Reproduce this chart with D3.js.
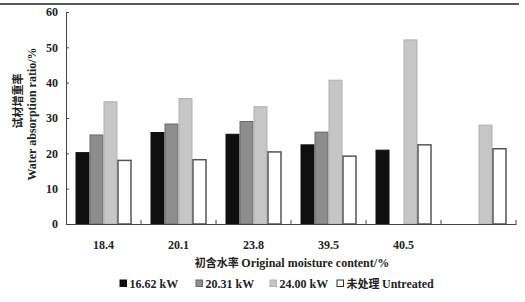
<!DOCTYPE html>
<html><head><meta charset="utf-8">
<script src="https://cdn.jsdelivr.net/npm/d3@7"></script>
<style>
body{margin:0;background:#fff;}
svg{display:block;}
text{font-family:"Liberation Serif","Times New Roman",serif;fill:#222;}
.cjk{font-family:"Noto Sans CJK SC",sans-serif;}
</style></head>
<body>
<script>
const categories = ["18.4","20.1","23.8","39.5","40.5",""];
const seriesNames = ["16.62 kW","20.31 kW","24.00 kW","未处理 Untreated"];
const s1662 = [20.2, 25.9, 25.4, 22.4, 20.9, null];
const s2031 = [25.2, 28.3, 29.0, 26.0, null, null];
const s2400 = [34.6, 35.5, 33.2, 40.7, 52.1, 28.0];
const sUntreated = [18.0, 18.2, 20.4, 19.2, 22.4, 21.3];
const yTicks = [0,10,20,30,40,50,60];

const series = [s1662, s2031, s2400, sUntreated];
const fills = ["#0f0f0f","#8d8d8d","#c6c6c6","#ffffff"];
const strokes = ["#0f0f0f","#6a6a6a","#b0b0b0","#555555"];

const W=525,H=302;
const svg=d3.select("body").append("svg").attr("width",W).attr("height",H);

// top frame line
svg.append("line").attr("x1",0).attr("x2",519).attr("y1",4).attr("y2",4)
  .attr("stroke","#222").attr("stroke-width",1.6);

const x=d3.scaleBand().domain(categories).range([66,516]).padding(0);
const xi=d3.scaleBand().domain(d3.range(4)).range([0,x.bandwidth()]).paddingInner(0).paddingOuter(0.68);
const y=d3.scaleLinear().domain([0,60]).range([224,12]);

// bars
series.forEach((vals,si)=>{
  svg.append("g").selectAll("rect").data(categories.map((c,i)=>({c,v:vals[i]})).filter(d=>d.v!=null))
   .join("rect")
   .attr("x",d=>x(d.c)+xi(si)+0.5)
   .attr("width",xi.bandwidth()-1)
   .attr("y",d=>y(d.v))
   .attr("height",d=>y(0)-y(d.v))
   .attr("fill",fills[si]).attr("stroke",strokes[si]).attr("stroke-width",si==3?1.5:1);
});

// y axis
const ya=svg.append("g").attr("transform","translate(66,0)")
  .call(d3.axisLeft(y).tickValues(yTicks).tickSize(-3).tickPadding(8).tickFormat(d3.format("d")));
ya.select(".domain").attr("stroke","#444");
ya.selectAll(".tick line").attr("stroke","#444");
ya.selectAll("text").attr("font-size",12).attr("font-weight","bold").attr("font-family","Liberation Serif").attr("fill","#333");

// x axis
const xa=svg.append("g").attr("transform","translate(0,224)")
  .call(d3.axisBottom(x).tickSize(0).tickPadding(16));
xa.select(".domain").attr("stroke","#444");
xa.selectAll("text").attr("font-size",12).attr("font-weight","bold").attr("font-family","Liberation Serif").attr("fill","#333");
// boundary ticks
svg.append("g").selectAll("line").data(categories.map(c=>x(c)+x.bandwidth()))
  .join("line").attr("x1",d=>d).attr("x2",d=>d).attr("y1",224).attr("y2",220).attr("stroke","#444");

// x axis title
const xt=svg.append("text").attr("x",292).attr("y",267).attr("text-anchor","middle")
  .attr("font-size",12).attr("font-weight","bold");
xt.append("tspan").attr("class","cjk").attr("font-size",11).text("初含水率 ");
xt.append("tspan").text("Original moisture content/%");

// y axis title
svg.append("text").attr("class","cjk").attr("transform","translate(22,101) rotate(-90)")
  .attr("text-anchor","middle").attr("font-size",11).attr("font-weight","bold").text("试材增重率");
svg.append("text").attr("transform","translate(36,114) rotate(-90)")
  .attr("text-anchor","middle").attr("font-size",12).attr("font-weight","bold").text("Water absorption ratio/%");

// legend
const legX=[120,196,270,337];
const lg=svg.append("g");
seriesNames.forEach((n,i)=>{
  lg.append("rect").attr("x",legX[i]).attr("y",280).attr("width",6.5).attr("height",6.5)
    .attr("fill",fills[i]).attr("stroke",i==3?"#333":strokes[i]).attr("stroke-width",1);
  const t=lg.append("text").attr("x",legX[i]+9.5).attr("y",288).attr("font-size",12).attr("font-weight","bold");
  if(i==3){
    t.append("tspan").attr("class","cjk").attr("font-size",11).text("未处理 ");
    t.append("tspan").text("Untreated");
  } else t.text(n);
});
</script>
</body></html>
